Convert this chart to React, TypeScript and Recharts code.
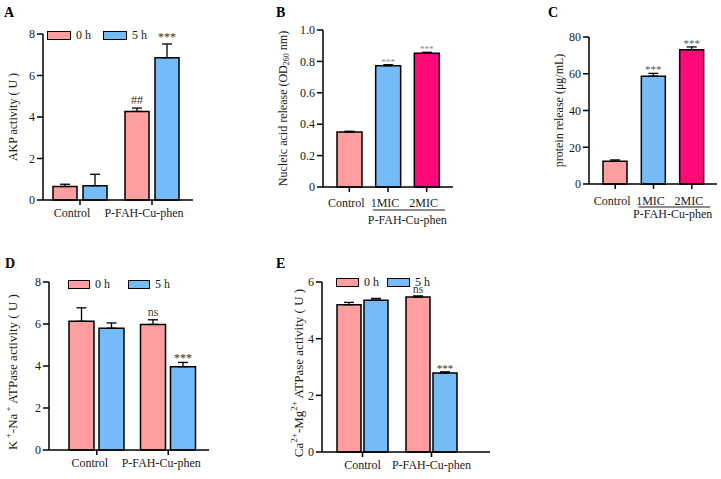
import type { ReactNode } from "react"
import { BarChart, Bar, XAxis, YAxis, ErrorBar, Cell, LabelList, Legend } from "recharts"

const FONT = '"Liberation Serif", "Times New Roman", serif'
const INK = "#1a1a1a"
const PINK = "#FF9E9E"
const BLUE = "#74BBF7"
const MAGENTA = "#FF0A78"

// A - AKP activity
const timeGroups = ["Control", "P-FAH-Cu-phen"]
const akp0h = [0.65, 4.27]
const akp5h = [0.69, 6.86]
const akp0hErr = [0.11, 0.16]
const akp5hErr = [0.55, 0.66]
const akp0hMark = ["", "##"]
const akp5hMark = ["", "***"]
const akpTicks = [0, 2, 4, 6, 8]

// B / C - release
const releaseGroups = ["Control", "1MIC", "2MIC"]
const releaseColors = [PINK, BLUE, MAGENTA]
const nucleic = [0.35, 0.773, 0.852]
const nucleicErr = [0.005, 0.006, 0.006]
const nucleicMark = ["", "***", "***"]
const nucleicTicks = [0, 0.2, 0.4, 0.6, 0.8, 1.0]
const protein = [12.4, 58.7, 73.1]
const proteinErr = [0.7, 1.5, 1.5]
const proteinMark = ["", "***", "***"]
const proteinTicks = [0, 20, 40, 60, 80]

// D - K+-Na+ ATPase
const kna0h = [6.13, 5.98]
const kna5h = [5.8, 3.97]
const kna0hErr = [0.64, 0.22]
const kna5hErr = [0.25, 0.2]
const kna0hMark = ["", "ns"]
const kna5hMark = ["", "***"]
const knaTicks = [0, 2, 4, 6, 8]

// E - Ca2+-Mg2+ ATPase
const camg0h = [5.2, 5.47]
const camg5h = [5.36, 2.79]
const camg0hErr = [0.08, 0.04]
const camg5hErr = [0.06, 0.04]
const camg0hMark = ["", "ns"]
const camg5hMark = ["", "***"]
const camgTicks = [0, 2, 4, 6]

type Frame = {
  left: number
  top: number
  width: number
  height: number
  margin: { top: number; right: number; bottom: number; left: number }
  yWidth: number
  xHeight: number
  padL: number
  padR: number
}

type Title = { content: ReactNode; dist: number; size: number; shift: number }

const axisStroke = { stroke: "#000", strokeWidth: 1.5 }

function plotHeight(f: Frame) {
  return f.height - f.margin.top - f.margin.bottom - f.xHeight
}

function markLabel(errs: number[], pxPerUnit: number, gap: number, size: number, color: string) {
  return (props: any) => {
    const vb = props.viewBox && props.viewBox.x != null ? props.viewBox : props
    const v = props.value
    if (!v) return null
    const top = Number(vb.y) - (errs[props.index] ?? 0) * pxPerUnit
    return (
      <text x={Number(vb.x) + Number(vb.width) / 2} y={top - gap} textAnchor="middle" fontSize={size} fontFamily={FONT} fill={color}>
        {v}
      </text>
    )
  }
}

function yTitle(t: Title) {
  return (props: any) => {
    const vb = props.viewBox
    const cx = vb.x + vb.width - t.dist
    const cy = vb.y + vb.height / 2 + t.shift
    return (
      <text x={cx} y={cy} transform={`rotate(-90 ${cx} ${cy})`} textAnchor="middle" dominantBaseline="central" fontSize={t.size} fontFamily={FONT} fill={INK}>
        {t.content}
      </text>
    )
  }
}

function groupTick(dx: number) {
  return (props: any) => {
    const { x, y, payload } = props
    return (
      <text x={x + dx} y={y} dy="0.71em" textAnchor="middle" fontSize={12} fontFamily={FONT} fill={INK}>
        {payload.value}
      </text>
    )
  }
}

function releaseTick(dx: number, lineDy: number, groupDy: number, groupLabel: string) {
  return (props: any) => {
    const { x, y, payload, index } = props
    const half = Number(payload?.offset) || 19.3
    return (
      <g>
        <text x={x + dx} y={y} dy="0.71em" textAnchor="middle" fontSize={12} fontFamily={FONT} fill={INK}>
          {payload.value}
        </text>
        {index === 1 && (
          <g>
            <line x1={x - half * 0.78} x2={x + half * 2.95} y1={y + lineDy} y2={y + lineDy} stroke={INK} strokeWidth={1.2} />
            <text x={x + half} y={y + groupDy} textAnchor="middle" fontSize={12} fontFamily={FONT} fill={INK}>
              {groupLabel}
            </text>
          </g>
        )}
      </g>
    )
  }
}

const legendColor: Record<string, string> = { "0 h": PINK, "5 h": BLUE }

function legendContent(swatch: number, item: number) {
  return (props: any) => (
    <div style={{ display: "flex", alignItems: "center", height: 12 }}>
      {(props.payload ?? []).map((p: any) => (
        <div key={p.value} style={{ display: "flex", alignItems: "center", width: item }}>
          <span
            style={{
              display: "inline-block",
              boxSizing: "border-box",
              width: swatch,
              height: 9,
              background: legendColor[p.value] ?? p.color,
              border: "1.5px solid #000",
            }}
          />
          <span style={{ marginLeft: 5, fontSize: 12, fontFamily: FONT, color: INK, lineHeight: "12px" }}>{p.value}</span>
        </div>
      ))}
    </div>
  )
}

type PairedProps = {
  frame: Frame
  v0: number[]
  v5: number[]
  e0: number[]
  e5: number[]
  m0: string[]
  m5: string[]
  ticks: number[]
  barSize: number
  barGap: number
  tickDx: number
  title: Title
  legend: { left: number; top: number; swatch: number; item: number }
  gap0: number
  gap5: number
  markSize: number
}

function PairedPanel(p: PairedProps) {
  const f = p.frame
  const max = p.ticks[p.ticks.length - 1]
  const ppu = plotHeight(f) / max
  const data = timeGroups.map((group, i) => ({
    group,
    h0: p.v0[i],
    h5: p.v5[i],
    h0e: [0, p.e0[i]],
    h5e: [0, p.e5[i]],
    h0m: p.m0[i],
    h5m: p.m5[i],
  }))
  return (
    <div style={{ position: "absolute", left: f.left, top: f.top }}>
      <BarChart width={f.width} height={f.height} data={data} margin={f.margin} barGap={p.barGap} barSize={p.barSize}>
        <XAxis
          dataKey="group"
          height={f.xHeight}
          padding={{ left: f.padL, right: f.padR }}
          axisLine={axisStroke}
          tickLine={axisStroke}
          tickSize={5}
          tickMargin={3}
          tick={groupTick(p.tickDx)}
          interval={0}
        />
        <YAxis
          width={f.yWidth}
          domain={[0, max]}
          ticks={p.ticks}
          axisLine={axisStroke}
          tickLine={axisStroke}
          tickSize={6}
          tickMargin={2}
          tick={{ fontSize: 12, fontFamily: FONT, fill: INK }}
          label={yTitle(p.title)}
        />
        <Legend
          layout="vertical"
          align="center"
          verticalAlign="middle"
          wrapperStyle={{ left: p.legend.left, top: p.legend.top, width: p.legend.item * 2 + 10, height: 12 }}
          content={legendContent(p.legend.swatch, p.legend.item)}
        />
        <Bar dataKey="h0" name="0 h" fill={PINK} stroke="#000" strokeWidth={1.5} isAnimationActive={false}>
          <ErrorBar dataKey="h0e" width={5} stroke="#000" strokeWidth={1.3} direction="y" />
          <LabelList dataKey="h0m" content={markLabel(p.e0, ppu, p.gap0, 12, "#444")} />
        </Bar>
        <Bar dataKey="h5" name="5 h" fill={BLUE} stroke="#000" strokeWidth={1.5} isAnimationActive={false}>
          <ErrorBar dataKey="h5e" width={5} stroke="#000" strokeWidth={1.3} direction="y" />
          <LabelList dataKey="h5m" content={markLabel(p.e5, ppu, p.gap5, p.markSize, "#333")} />
        </Bar>
      </BarChart>
    </div>
  )
}

type ReleaseProps = {
  frame: Frame
  values: number[]
  errs: number[]
  marks: string[]
  ticks: number[]
  fmt: (v: number) => string
  barSize: number
  tickMargin: number
  lineDy: number
  groupDy: number
  title: Title
  markGap: number
  markSize: number
  markColor: string
}

function ReleasePanel(p: ReleaseProps) {
  const f = p.frame
  const max = p.ticks[p.ticks.length - 1]
  const ppu = plotHeight(f) / max
  const data = releaseGroups.map((group, i) => ({ group, v: p.values[i], e: [0, p.errs[i]], m: p.marks[i] }))
  return (
    <div style={{ position: "absolute", left: f.left, top: f.top }}>
      <BarChart width={f.width} height={f.height} data={data} margin={f.margin} barSize={p.barSize}>
        <XAxis
          dataKey="group"
          height={f.xHeight}
          padding={{ left: f.padL, right: f.padR }}
          axisLine={axisStroke}
          tickLine={axisStroke}
          tickSize={5}
          tickMargin={p.tickMargin}
          tick={releaseTick(-3, p.lineDy, p.groupDy, "P-FAH-Cu-phen")}
          interval={0}
        />
        <YAxis
          width={f.yWidth}
          domain={[0, max]}
          ticks={p.ticks}
          tickFormatter={p.fmt}
          axisLine={axisStroke}
          tickLine={axisStroke}
          tickSize={6}
          tickMargin={2}
          tick={{ fontSize: 12, fontFamily: FONT, fill: INK }}
          label={yTitle(p.title)}
        />
        <Bar dataKey="v" stroke="#000" strokeWidth={1.5} isAnimationActive={false}>
          {data.map((d, i) => (
            <Cell key={d.group} fill={releaseColors[i]} />
          ))}
          <ErrorBar dataKey="e" width={5} stroke="#000" strokeWidth={1.3} direction="y" />
          <LabelList dataKey="m" content={markLabel(p.errs, ppu, p.markGap, p.markSize, p.markColor)} />
        </Bar>
      </BarChart>
    </div>
  )
}

const panelLetters = [
  { t: "A", x: 4, y: 17 },
  { t: "B", x: 276, y: 17 },
  { t: "C", x: 548, y: 17 },
  { t: "D", x: 5, y: 268 },
  { t: "E", x: 276, y: 268 },
]

export default function App() {
  return (
    <div style={{ position: "absolute", left: 0, top: 0, width: 721, height: 479, background: "#fff", overflow: "hidden" }}>
      <PairedPanel
        frame={{ left: 0, top: 0, width: 240, height: 240, margin: { top: 34, right: 47, bottom: 10, left: 0 }, yWidth: 43, xHeight: 30, padL: 1, padR: 5 }}
        v0={akp0h}
        v5={akp5h}
        e0={akp0hErr}
        e5={akp5hErr}
        m0={akp0hMark}
        m5={akp5hMark}
        ticks={akpTicks}
        barSize={24}
        barGap={6}
        tickDx={-8}
        title={{ content: "AKP activity ( U )", dist: 30, size: 12, shift: 0 }}
        legend={{ left: 47, top: 29, swatch: 24, item: 56 }}
        gap0={4}
        gap5={3}
        markSize={12}
      />
      <ReleasePanel
        frame={{ left: 240, top: 0, width: 240, height: 260, margin: { top: 30, right: 27, bottom: 23, left: 0 }, yWidth: 83, xHeight: 50, padL: 7, padR: 7 }}
        values={nucleic}
        errs={nucleicErr}
        marks={nucleicMark}
        ticks={nucleicTicks}
        fmt={(v) => (v === 0 ? "0" : v.toFixed(1))}
        barSize={25}
        tickMargin={6}
        lineDy={12}
        groupDy={26}
        title={{
          content: (
            <>
              <tspan>Nucleic acid release (OD</tspan>
              <tspan dy={3} fontSize={8}>260</tspan>
              <tspan dy={-3}> nm)</tspan>
            </>
          ),
          dist: 40,
          size: 12,
          shift: 0,
        }}
        markGap={0}
        markSize={9}
        markColor="#888"
      />
      <ReleasePanel
        frame={{ left: 480, top: 0, width: 241, height: 260, margin: { top: 37, right: 4, bottom: 26, left: 0 }, yWidth: 109, xHeight: 50, padL: 7, padR: 6 }}
        values={protein}
        errs={proteinErr}
        marks={proteinMark}
        ticks={proteinTicks}
        fmt={(v) => String(v)}
        barSize={24}
        tickMargin={7}
        lineDy={11}
        groupDy={22}
        title={{ content: "protein release (μg/mL)", dist: 30, size: 12, shift: 0 }}
        markGap={0}
        markSize={11}
        markColor="#555"
      />
      <PairedPanel
        frame={{ left: 0, top: 250, width: 240, height: 229, margin: { top: 32, right: 31, bottom: 4, left: 0 }, yWidth: 49, xHeight: 25, padL: 12, padR: 5 }}
        v0={kna0h}
        v5={kna5h}
        e0={kna0hErr}
        e5={kna5hErr}
        m0={kna0hMark}
        m5={kna5hMark}
        ticks={knaTicks}
        barSize={25}
        barGap={5}
        tickDx={-7}
        title={{
          content: (
            <>
              <tspan>K</tspan>
              <tspan dy={-4} fontSize={9}> +</tspan>
              <tspan dy={4}>-Na</tspan>
              <tspan dy={-4} fontSize={9}> +</tspan>
              <tspan dy={4}>  ATPase activity ( U )</tspan>
            </>
          ),
          dist: 37,
          size: 13,
          shift: 6,
        }}
        legend={{ left: 68, top: 28, swatch: 22, item: 60 }}
        gap0={4}
        gap5={0}
        markSize={12}
      />
      <PairedPanel
        frame={{ left: 240, top: 250, width: 260, height: 229, margin: { top: 32, right: 10, bottom: 5, left: 0 }, yWidth: 82, xHeight: 22, padL: 6, padR: 24 }}
        v0={camg0h}
        v5={camg5h}
        e0={camg0hErr}
        e5={camg5hErr}
        m0={camg0hMark}
        m5={camg5hMark}
        ticks={camgTicks}
        barSize={24}
        barGap={3}
        tickDx={0}
        title={{
          content: (
            <>
              <tspan>Ca</tspan>
              <tspan dy={-4} fontSize={9}>2+</tspan>
              <tspan dy={4}>-Mg</tspan>
              <tspan dy={-4} fontSize={9}>2+</tspan>
              <tspan dy={4}> ATPase  activity ( U )</tspan>
            </>
          ),
          dist: 24,
          size: 13,
          shift: 6,
        }}
        legend={{ left: 96, top: 26, swatch: 23, item: 51 }}
        gap0={3}
        gap5={0}
        markSize={11}
      />
      <svg width={721} height={479} style={{ position: "absolute", left: 0, top: 0, pointerEvents: "none" }}>
        {panelLetters.map((l) => (
          <text key={l.t} x={l.x} y={l.y} fontSize={14} fontWeight="bold" fontFamily={FONT} fill="#000">
            {l.t}
          </text>
        ))}
      </svg>
    </div>
  )
}
